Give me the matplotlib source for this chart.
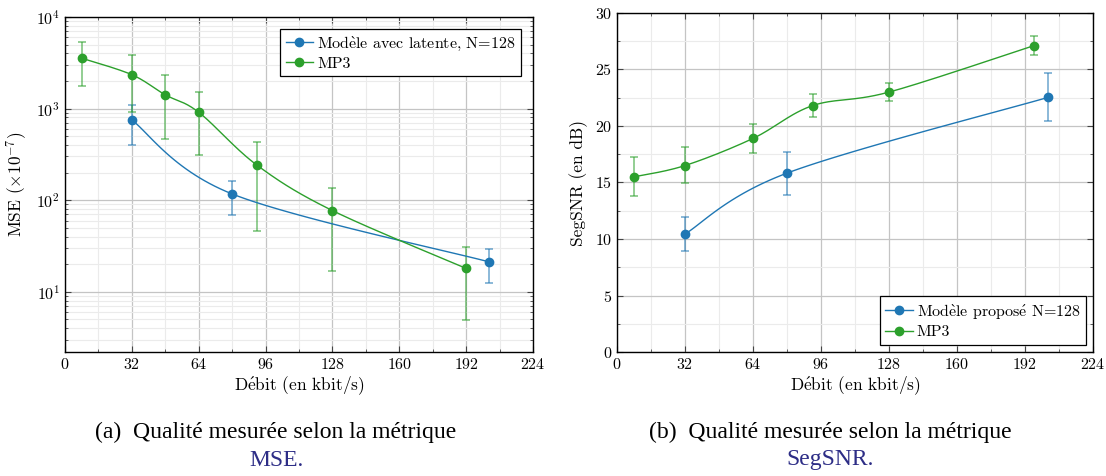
import numpy as np
import matplotlib
matplotlib.use("Agg")
import matplotlib.pyplot as plt
from matplotlib.lines import Line2D
from matplotlib.ticker import MultipleLocator, LogLocator, NullFormatter

plt.rcParams['font.family'] = ['cmr10', 'DejaVu Serif']
plt.rcParams['mathtext.fontset'] = 'cm'
plt.rcParams['axes.formatter.use_mathtext'] = True
plt.rcParams['axes.unicode_minus'] = False

BLUE = '#1f77b4'
GREEN = '#2ca02c'

# ---------------- data: MSE (left) ----------------
mse_model_x = [32, 80, 203]
mse_model_y = [750, 117, 21.2]
mse_model_lo = [405, 68.6, 12.6]
mse_model_hi = [1090, 164, 29.5]

mse_mp3_x = [8, 32, 48, 64, 92, 128, 192]
mse_mp3_y = [3548, 2344, 1413, 912, 240, 77, 18]
mse_mp3_lo = [1745, 918, 468, 309, 46, 17, 4.9]
mse_mp3_hi = [5400, 3800, 2344, 1524, 437, 135, 31]

# ---------------- data: SegSNR (right) ----------------
snr_model_x = [32, 80, 203]
snr_model_y = [10.44, 15.83, 22.54]
snr_model_lo = [8.96, 13.9, 20.41]
snr_model_hi = [11.92, 17.72, 24.67]

snr_mp3_x = [8, 32, 64, 92, 128, 196]
snr_mp3_y = [15.5, 16.5, 18.9, 21.8, 23.0, 27.1]
snr_mp3_lo = [13.8, 14.94, 17.6, 20.8, 22.25, 26.24]
snr_mp3_hi = [17.22, 18.1, 20.2, 22.8, 23.8, 28.0]

xticks = [0, 32, 64, 96, 128, 160, 192, 224]
# accents drawn with Computer Modern math accents (text: "Débit (en kbit/s)")
label_x = r'D$\acute{\mathrm{e}}$bit (en kbit/s)'
label_mse = r'MSE ($\times 10^{-7}$)'
label_snr = 'SegSNR (en dB)'
leg_mse = [r'Mod$\grave{\mathrm{e}}$le avec latente, N=128', 'MP3']
leg_snr = [r'Mod$\grave{\mathrm{e}}$le propos$\acute{\mathrm{e}}$ N=128', 'MP3']
cap_a = ['(a)  Qualité mesurée selon la métrique', 'MSE.']
cap_b = ['(b)  Qualité mesurée selon la métrique', 'SegSNR.']


def smooth(xs, ys, fx, fy, ifx, ify, n=30):
    """Catmull-Rom curve through points, computed in transformed coordinates."""
    P = np.column_stack([fx(np.asarray(xs, float)), fy(np.asarray(ys, float))])
    if len(P) < 2:
        return xs, ys
    ext = np.vstack([P[0], P, P[-1]])
    out = []
    t = np.linspace(0, 1, n)[:, None]
    for i in range(1, len(ext) - 2):
        p0, p1, p2, p3 = ext[i - 1], ext[i], ext[i + 1], ext[i + 2]
        c1 = p1 + (p2 - p0) / 6.0
        c2 = p2 - (p3 - p1) / 6.0
        seg = ((1 - t) ** 3) * p1 + 3 * ((1 - t) ** 2) * t * c1 + 3 * (1 - t) * t ** 2 * c2 + t ** 3 * p2
        out.append(seg if i == 1 else seg[1:])
    out = np.vstack(out)
    return ifx(out[:, 0]), ify(out[:, 1])


def draw_series(ax, x, y, lo, hi, color, logy, xr, yr):
    y = np.asarray(y, float)
    yerr = [y - np.asarray(lo, float), np.asarray(hi, float) - y]
    ax.errorbar(x, y, yerr=yerr, fmt='none', ecolor=color, alpha=0.65,
                elinewidth=1.1, capsize=2.6, capthick=1.1, zorder=3)
    if logy:
        fy = lambda v: (np.log10(v) - np.log10(yr[0])) / (np.log10(yr[1]) - np.log10(yr[0]))
        ify = lambda u: 10 ** (u * (np.log10(yr[1]) - np.log10(yr[0])) + np.log10(yr[0]))
    else:
        fy = lambda v: (v - yr[0]) / (yr[1] - yr[0])
        ify = lambda u: u * (yr[1] - yr[0]) + yr[0]
    fx = lambda v: (v - xr[0]) / (xr[1] - xr[0])
    ifx = lambda u: u * (xr[1] - xr[0]) + xr[0]
    sx, sy = smooth(x, y, fx, fy, ifx, ify)
    ax.plot(sx, sy, color=color, lw=1.0, zorder=4)
    ax.plot(x, y, 'o', color=color, ms=6, zorder=5)


def style_axes(ax):
    ax.set_xlim(0, 224)
    ax.set_xticks(xticks)
    ax.xaxis.set_minor_locator(MultipleLocator(16))
    ax.tick_params(which='both', direction='in', top=True, right=True,
                   labelsize=11.5, colors='#444444', labelcolor='black')
    ax.tick_params(which='major', length=4, width=0.8)
    ax.tick_params(which='minor', length=2.5, width=0.6)
    ax.grid(which='major', color='#c4c4c4', lw=0.9)
    ax.grid(which='minor', color='#ebebeb', lw=0.8)
    ax.set_axisbelow(True)
    for s in ax.spines.values():
        s.set_linewidth(1.0)
        s.set_color('black')
    ax.set_xlabel(label_x, fontsize=12.5, labelpad=2)


fig = plt.figure(figsize=(11.06, 4.76), dpi=100)

# ---------- left ----------
ax1 = fig.add_axes([65 / 1106, 124 / 476, 468 / 1106, 335 / 476])
yr1 = (2.2, 1e4)
ax1.set_yscale('log')
ax1.set_ylim(*yr1)
draw_series(ax1, mse_model_x, mse_model_y, mse_model_lo, mse_model_hi, BLUE, True, (0, 224), yr1)
draw_series(ax1, mse_mp3_x, mse_mp3_y, mse_mp3_lo, mse_mp3_hi, GREEN, True, (0, 224), yr1)
ax1.yaxis.set_major_locator(LogLocator(base=10, numticks=10))
ax1.yaxis.set_minor_locator(LogLocator(base=10, subs=np.arange(2, 10), numticks=20))
ax1.yaxis.set_minor_formatter(NullFormatter())
style_axes(ax1)
ax1.set_ylabel(label_mse, fontsize=12.5, labelpad=5)
h1 = [Line2D([], [], color=BLUE, marker='o', ms=6, lw=1.0),
      Line2D([], [], color=GREEN, marker='o', ms=6, lw=1.0)]
lg1 = ax1.legend(h1, leg_mse, loc='upper right', fontsize=11.5, fancybox=False,
                 framealpha=1, edgecolor='black', handlelength=1.7, handletextpad=0.25,
                 borderaxespad=0.75, labelspacing=0.25, borderpad=0.35)
lg1.get_frame().set_linewidth(0.9)

# ---------- right ----------
ax2 = fig.add_axes([617 / 1106, 124 / 476, 476 / 1106, 339 / 476])
yr2 = (0, 30)
ax2.set_ylim(*yr2)
draw_series(ax2, snr_model_x, snr_model_y, snr_model_lo, snr_model_hi, BLUE, False, (0, 224), yr2)
draw_series(ax2, snr_mp3_x, snr_mp3_y, snr_mp3_lo, snr_mp3_hi, GREEN, False, (0, 224), yr2)
ax2.yaxis.set_major_locator(MultipleLocator(5))
ax2.yaxis.set_minor_locator(MultipleLocator(2.5))
style_axes(ax2)
ax2.set_ylabel(label_snr, fontsize=12.5, labelpad=5)
h2 = [Line2D([], [], color=BLUE, marker='o', ms=6, lw=1.0),
      Line2D([], [], color=GREEN, marker='o', ms=6, lw=1.0)]
lg2 = ax2.legend(h2, leg_snr, loc='lower right', fontsize=11.5, fancybox=False,
                 framealpha=1, edgecolor='black', handlelength=1.7, handletextpad=0.25,
                 borderaxespad=0.45, labelspacing=0.25, borderpad=0.35)
lg2.get_frame().set_linewidth(0.9)

# ---------- captions ----------
cap_font = ['Liberation Serif', 'DejaVu Serif']
for cx, cap in [(276 / 1106, cap_a), (830 / 1106, cap_b)]:
    fig.text(cx, 1 - 432 / 476, cap[0], ha='center', va='center', fontsize=17, family=cap_font)
    fig.text(cx, 1 - 460 / 476, cap[1], ha='center', va='center', fontsize=17,
             family=cap_font, color='#2d2d86')

fig.savefig('out.png', dpi=100)
